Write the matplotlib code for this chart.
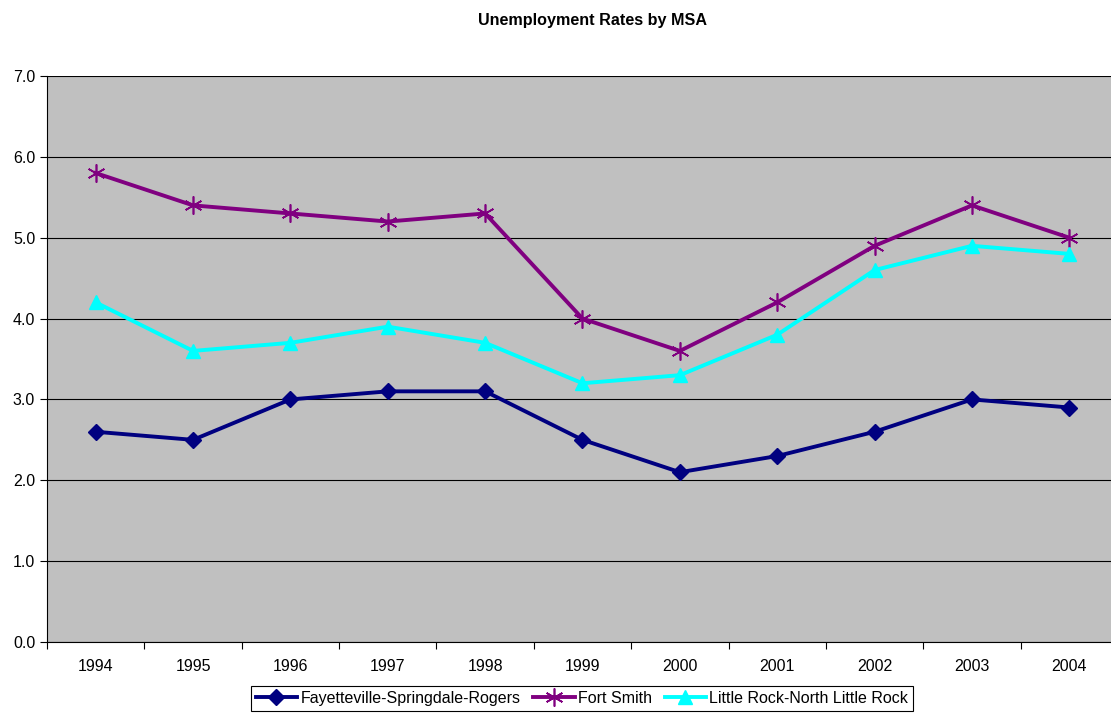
import matplotlib
matplotlib.use("Agg")
import matplotlib.pyplot as plt
import numpy as np

plt.rcParams["font.family"] = ["Liberation Sans", "DejaVu Sans"]

years = ["1994", "1995", "1996", "1997", "1998", "1999", "2000", "2001", "2002", "2003", "2004"]
fayetteville = [2.6, 2.5, 3.0, 3.1, 3.1, 2.5, 2.1, 2.3, 2.6, 3.0, 2.9]
fort_smith = [5.8, 5.4, 5.3, 5.2, 5.3, 4.0, 3.6, 4.2, 4.9, 5.4, 5.0]
little_rock = [4.2, 3.6, 3.7, 3.9, 3.7, 3.2, 3.3, 3.8, 4.6, 4.9, 4.8]
y_ticks = [0.0, 1.0, 2.0, 3.0, 4.0, 5.0, 6.0, 7.0]

W, H = 1111, 713
fig = plt.figure(figsize=(W / 100, H / 100), dpi=100)
left, right, top, bottom = 47, 1118, 76, 642
ax = fig.add_axes([left / W, 1 - bottom / H, (right - left) / W, (bottom - top) / H])
ax.set_facecolor("#C0C0C0")

x = np.arange(len(years))
ax.plot(x, fayetteville, color="#000080", lw=2.8, marker="D", ms=8,
        mec="#000080", mfc="#000080", label="Fayetteville-Springdale-Rogers", zorder=3)
ax.plot(x, fort_smith, color="#800080", lw=2.8, marker=(6, 2, 0), ms=13,
        mec="#800080", mew=1.2, label="Fort Smith", zorder=3)
ax.plot(x, little_rock, color="#00FFFF", lw=2.8, marker="^", ms=10,
        mec="#00FFFF", mfc="#00FFFF", label="Little Rock-North Little Rock", zorder=3)

ax.set_xlim(-0.5, len(years) - 0.5)
ax.set_ylim(0, 7)
ax.set_yticks(y_ticks)
ax.set_yticklabels([f"{v:.1f}" for v in y_ticks], fontsize=11.5)
ax.yaxis.grid(True, color="black", lw=0.8)
ax.set_axisbelow(True)

ax.set_xticks(np.arange(-0.5, len(years), 1.0))
ax.set_xticklabels([])
ax.set_xticks(x, minor=True)
ax.set_xticklabels(years, minor=True, fontsize=11.5)
ax.tick_params(axis="x", which="minor", length=0, pad=12)
ax.tick_params(axis="both", which="major", length=5, width=0.8, direction="out")

for side in ["top", "right"]:
    ax.spines[side].set_visible(False)
ax.spines["left"].set_color("black")
ax.spines["bottom"].set_color("black")

fig.text(592 / W, 1 - 20 / H, "Unemployment Rates by MSA", ha="center", va="center",
         fontsize=11.6, fontweight="bold")

leg = fig.legend(loc="upper center", bbox_to_anchor=(582 / W, 1 - 686 / H), ncol=3,
                 frameon=True, fancybox=False, edgecolor="black", framealpha=1,
                 fontsize=11.5, handlelength=2.6, handletextpad=0.2, columnspacing=0.8,
                 borderpad=0.3, borderaxespad=0)
leg.get_frame().set_linewidth(0.8)

fig.savefig("out.png", dpi=100, facecolor="white")
